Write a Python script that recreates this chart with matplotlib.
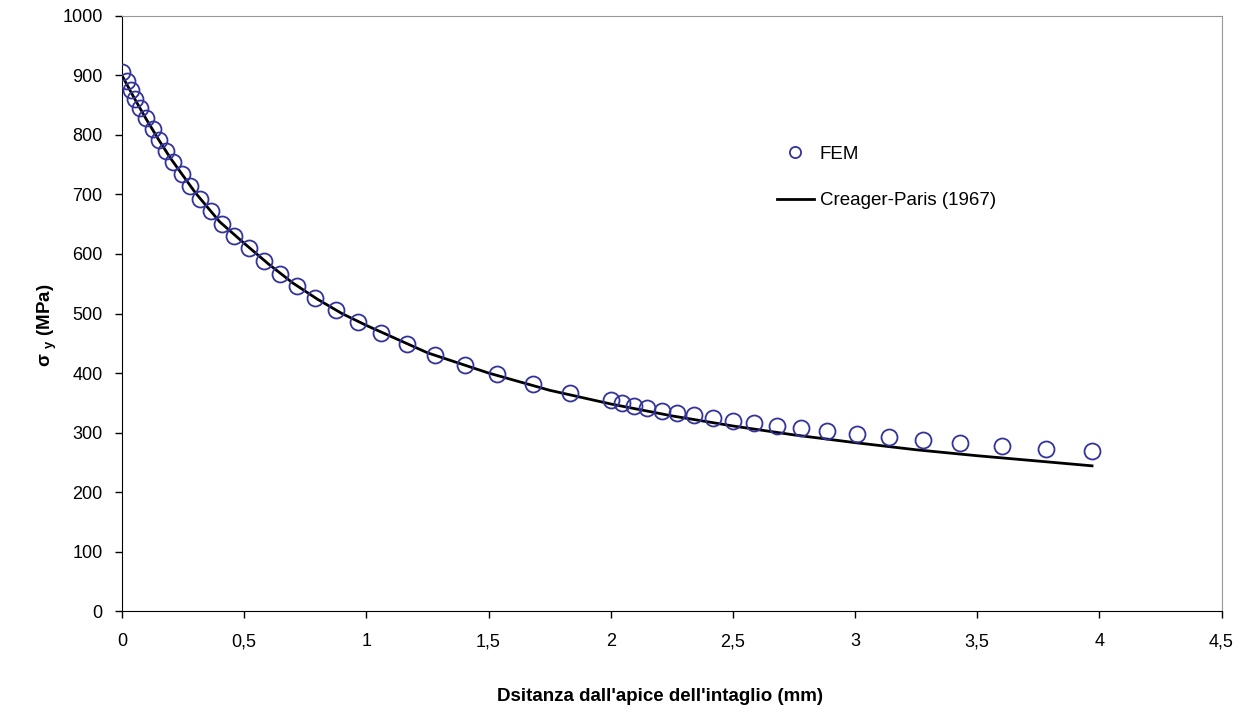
import matplotlib
matplotlib.use("Agg")
import matplotlib.pyplot as plt
from matplotlib.ticker import FuncFormatter, MultipleLocator

plt.rcParams['font.family'] = ['Liberation Sans', 'DejaVu Sans']
plt.rcParams['mathtext.fontset'] = 'custom'
plt.rcParams['mathtext.rm'] = 'Liberation Sans'
plt.rcParams['mathtext.bf'] = 'Liberation Sans:bold'

# FEM results
fem_x = [0.0, 0.02, 0.035, 0.055, 0.075, 0.1, 0.125, 0.15, 0.18, 0.21, 0.245, 0.28,
         0.32, 0.365, 0.41, 0.46, 0.52, 0.58, 0.645, 0.715, 0.79, 0.875, 0.965,
         1.06, 1.165, 1.28, 1.405, 1.535, 1.68, 1.835, 2.0, 2.045, 2.095, 2.15,
         2.21, 2.27, 2.34, 2.42, 2.5, 2.585, 2.68, 2.78, 2.885, 3.01, 3.14, 3.28,
         3.43, 3.6, 3.78, 3.97]
fem_y = [906, 891, 876, 860, 845, 828, 810, 791, 773, 754, 734, 714,
         693, 672, 651, 630, 610, 589, 567, 546, 526, 506, 486,
         467, 449, 431, 414, 398, 382, 367, 354, 350, 345, 341,
         337, 333, 329, 325, 320, 316, 311, 307, 302, 297, 292, 288,
         283, 278, 273, 269]

# Creager-Paris (1967) curve
cp_x = [0.0, 0.05, 0.1, 0.15, 0.2, 0.3, 0.4, 0.5, 0.6, 0.7, 0.8, 0.9, 1.0,
        1.25, 1.5, 1.75, 2.0, 2.25, 2.5, 2.75, 3.0, 3.25, 3.5, 3.75, 3.97]
cp_y = [900, 862, 826, 792, 760, 703, 654, 618, 583, 551, 524, 500, 480,
        434, 400, 371, 348, 328, 311, 296, 283, 271, 261, 252, 244]

fig = plt.figure(figsize=(12.49, 7.13), dpi=100)
ax = fig.add_axes([0.0977, 0.143, 0.8803, 0.8346])

ax.plot(fem_x, fem_y, 'o', mfc='none', mec='#333399', mew=1.3, ms=11.5,
        label='FEM', zorder=3)
ax.plot(cp_x, cp_y, '-', color='black', lw=2.0, label='Creager-Paris (1967)', zorder=2)

ax.set_xlim(0, 4.5)
ax.set_ylim(0, 1000)
ax.xaxis.set_major_locator(MultipleLocator(0.5))
ax.yaxis.set_major_locator(MultipleLocator(100))
ax.xaxis.set_major_formatter(FuncFormatter(lambda v, p: ('%g' % v).replace('.', ',')))

ax.tick_params(direction='out', length=5, width=1, labelsize=13, colors='black')
ax.tick_params(axis='x', pad=11)
ax.tick_params(axis='y', pad=9)
for s in ['left', 'bottom']:
    ax.spines[s].set_color('black')
for s in ['top', 'right']:
    ax.spines[s].set_color('#999999')

ax.set_xlabel("Dsitanza dall'apice dell'intaglio (mm)", fontsize=13.5, fontweight='bold', labelpad=27)
ax.set_ylabel(r'σ $_\mathbf{y}$ (MPa)', fontsize=13.5, fontweight='bold', labelpad=2)
ax.xaxis.label.set_x(0.489)
ax.yaxis.label.set_y(0.48)

ax.legend(loc='upper left', bbox_to_anchor=(0.58, 0.81), frameon=False,
          fontsize=13.5, labelspacing=1.55, handlelength=2.0, handletextpad=0.3,
          markerscale=0.7)

fig.savefig('out.png', dpi=100)
